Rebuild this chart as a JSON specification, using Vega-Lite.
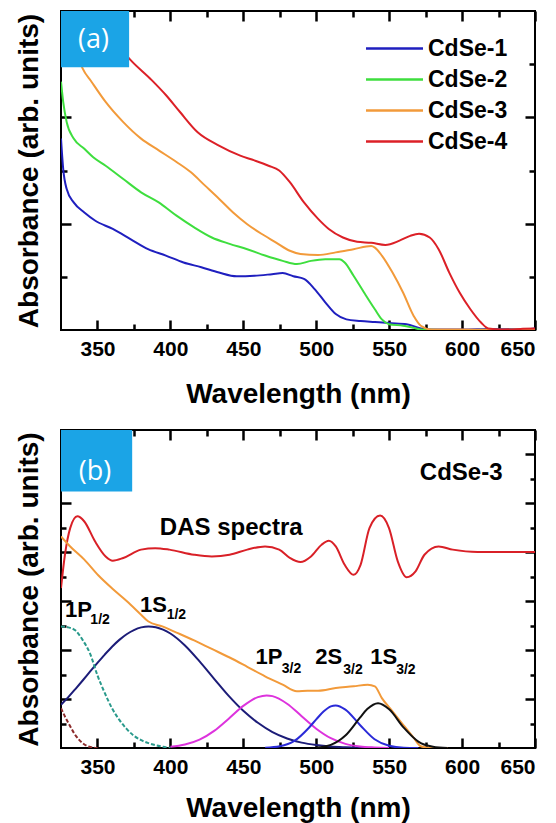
{
  "$schema": "https://vega.github.io/schema/vega-lite/v6.json",
  "background": "white",
  "padding": {"left": 14, "top": 8, "right": 5, "bottom": 0},
  "spacing": 18,
  "resolve": {"scale": {"color": "independent"}, "legend": {"color": "independent"}},
  "config": {
    "view": {"stroke": "#000", "strokeWidth": 2},
    "axis": {
      "domain": false, "grid": false, "zindex": 1, "ticks": true,
      "labelFont": "Liberation Sans", "labelFontWeight": "bold", "labelFontSize": 21, "labelColor": "#000",
      "titleFont": "Liberation Sans", "titleFontWeight": "bold", "titleFontSize": 28, "titleColor": "#000",
      "tickColor": "#000", "tickWidth": 2.5
    }
  },
  "datasets": {
    "a12": [
      {"wl": 325, "ab": 3.60, "s": "CdSe-1"}, {"wl": 326.5, "ab": 3.03, "s": "CdSe-1"}, {"wl": 328.9, "ab": 2.65, "s": "CdSe-1"}, {"wl": 333.7, "ab": 2.40, "s": "CdSe-1"}, {"wl": 341.0, "ab": 2.21, "s": "CdSe-1"}, {"wl": 348.3, "ab": 2.06, "s": "CdSe-1"}, {"wl": 360.5, "ab": 1.90, "s": "CdSe-1"}, {"wl": 372.6, "ab": 1.71, "s": "CdSe-1"}, {"wl": 384.7, "ab": 1.52, "s": "CdSe-1"}, {"wl": 396.9, "ab": 1.40, "s": "CdSe-1"}, {"wl": 409.0, "ab": 1.27, "s": "CdSe-1"}, {"wl": 421.2, "ab": 1.18, "s": "CdSe-1"}, {"wl": 433.3, "ab": 1.08, "s": "CdSe-1"}, {"wl": 445.4, "ab": 1.01, "s": "CdSe-1"}, {"wl": 457.6, "ab": 1.02, "s": "CdSe-1"}, {"wl": 469.7, "ab": 1.05, "s": "CdSe-1"}, {"wl": 477.0, "ab": 1.07, "s": "CdSe-1"}, {"wl": 484.3, "ab": 1.01, "s": "CdSe-1"}, {"wl": 491.6, "ab": 0.96, "s": "CdSe-1"}, {"wl": 498.9, "ab": 0.77, "s": "CdSe-1"}, {"wl": 506.2, "ab": 0.52, "s": "CdSe-1"}, {"wl": 513.4, "ab": 0.30, "s": "CdSe-1"}, {"wl": 520.7, "ab": 0.20, "s": "CdSe-1"}, {"wl": 530.4, "ab": 0.17, "s": "CdSe-1"}, {"wl": 540.2, "ab": 0.15, "s": "CdSe-1"}, {"wl": 549.9, "ab": 0.13, "s": "CdSe-1"}, {"wl": 562.0, "ab": 0.11, "s": "CdSe-1"}, {"wl": 571.7, "ab": 0.03, "s": "CdSe-1"}, {"wl": 579.0, "ab": 0.01, "s": "CdSe-1"}, {"wl": 600, "ab": 0.01, "s": "CdSe-1"}, {"wl": 620, "ab": 0.02, "s": "CdSe-1"}, {"wl": 640, "ab": 0.01, "s": "CdSe-1"}, {"wl": 650, "ab": 0.03, "s": "CdSe-1"},
      {"wl": 325, "ab": 4.67, "s": "CdSe-2"}, {"wl": 326.5, "ab": 4.29, "s": "CdSe-2"}, {"wl": 328.9, "ab": 3.91, "s": "CdSe-2"}, {"wl": 333.7, "ab": 3.60, "s": "CdSe-2"}, {"wl": 341.0, "ab": 3.41, "s": "CdSe-2"}, {"wl": 347.1, "ab": 3.25, "s": "CdSe-2"}, {"wl": 355.6, "ab": 3.09, "s": "CdSe-2"}, {"wl": 367.7, "ab": 2.84, "s": "CdSe-2"}, {"wl": 379.9, "ab": 2.59, "s": "CdSe-2"}, {"wl": 392.0, "ab": 2.40, "s": "CdSe-2"}, {"wl": 404.2, "ab": 2.15, "s": "CdSe-2"}, {"wl": 416.3, "ab": 1.93, "s": "CdSe-2"}, {"wl": 428.4, "ab": 1.74, "s": "CdSe-2"}, {"wl": 440.6, "ab": 1.62, "s": "CdSe-2"}, {"wl": 452.7, "ab": 1.52, "s": "CdSe-2"}, {"wl": 464.9, "ab": 1.40, "s": "CdSe-2"}, {"wl": 477.0, "ab": 1.30, "s": "CdSe-2"}, {"wl": 486.7, "ab": 1.24, "s": "CdSe-2"}, {"wl": 496.4, "ab": 1.30, "s": "CdSe-2"}, {"wl": 506.2, "ab": 1.33, "s": "CdSe-2"}, {"wl": 515.9, "ab": 1.33, "s": "CdSe-2"}, {"wl": 519.5, "ab": 1.27, "s": "CdSe-2"}, {"wl": 525.6, "ab": 1.02, "s": "CdSe-2"}, {"wl": 532.9, "ab": 0.70, "s": "CdSe-2"}, {"wl": 540.2, "ab": 0.39, "s": "CdSe-2"}, {"wl": 545.0, "ab": 0.20, "s": "CdSe-2"}, {"wl": 549.9, "ab": 0.11, "s": "CdSe-2"}, {"wl": 559.6, "ab": 0.08, "s": "CdSe-2"}, {"wl": 566.9, "ab": 0.04, "s": "CdSe-2"}, {"wl": 571.7, "ab": 0.01, "s": "CdSe-2"}, {"wl": 600, "ab": 0.0, "s": "CdSe-2"}, {"wl": 650, "ab": 0.01, "s": "CdSe-2"}
    ],
    "a34": [
      {"wl": 325, "ab": 6.3, "s": "CdSe-3"}, {"wl": 332, "ab": 5.6, "s": "CdSe-3"}, {"wl": 339.8, "ab": 4.92, "s": "CdSe-3"}, {"wl": 345.9, "ab": 4.67, "s": "CdSe-3"}, {"wl": 355.6, "ab": 4.29, "s": "CdSe-3"}, {"wl": 367.7, "ab": 3.91, "s": "CdSe-3"}, {"wl": 379.9, "ab": 3.60, "s": "CdSe-3"}, {"wl": 392.0, "ab": 3.38, "s": "CdSe-3"}, {"wl": 404.2, "ab": 3.16, "s": "CdSe-3"}, {"wl": 413.9, "ab": 2.97, "s": "CdSe-3"}, {"wl": 423.6, "ab": 2.72, "s": "CdSe-3"}, {"wl": 433.3, "ab": 2.47, "s": "CdSe-3"}, {"wl": 443.0, "ab": 2.21, "s": "CdSe-3"}, {"wl": 452.7, "ab": 1.99, "s": "CdSe-3"}, {"wl": 462.4, "ab": 1.81, "s": "CdSe-3"}, {"wl": 472.2, "ab": 1.65, "s": "CdSe-3"}, {"wl": 481.9, "ab": 1.49, "s": "CdSe-3"}, {"wl": 489.2, "ab": 1.43, "s": "CdSe-3"}, {"wl": 501.3, "ab": 1.41, "s": "CdSe-3"}, {"wl": 513.4, "ab": 1.46, "s": "CdSe-3"}, {"wl": 525.6, "ab": 1.52, "s": "CdSe-3"}, {"wl": 537.7, "ab": 1.58, "s": "CdSe-3"}, {"wl": 540.2, "ab": 1.55, "s": "CdSe-3"}, {"wl": 545.0, "ab": 1.40, "s": "CdSe-3"}, {"wl": 552.3, "ab": 1.08, "s": "CdSe-3"}, {"wl": 559.6, "ab": 0.70, "s": "CdSe-3"}, {"wl": 566.9, "ab": 0.26, "s": "CdSe-3"}, {"wl": 571.7, "ab": 0.08, "s": "CdSe-3"}, {"wl": 579.0, "ab": 0.01, "s": "CdSe-3"}, {"wl": 600, "ab": 0.01, "s": "CdSe-3"}, {"wl": 630, "ab": 0.0, "s": "CdSe-3"}, {"wl": 650, "ab": 0.02, "s": "CdSe-3"},
      {"wl": 325, "ab": 6.9, "s": "CdSe-4"}, {"wl": 345, "ab": 6.1, "s": "CdSe-4"}, {"wl": 360, "ab": 5.5, "s": "CdSe-4"}, {"wl": 372.6, "ab": 5.08, "s": "CdSe-4"}, {"wl": 387.2, "ab": 4.70, "s": "CdSe-4"}, {"wl": 396.9, "ab": 4.42, "s": "CdSe-4"}, {"wl": 406.6, "ab": 4.10, "s": "CdSe-4"}, {"wl": 418.7, "ab": 3.72, "s": "CdSe-4"}, {"wl": 433.3, "ab": 3.47, "s": "CdSe-4"}, {"wl": 447.9, "ab": 3.28, "s": "CdSe-4"}, {"wl": 457.6, "ab": 3.19, "s": "CdSe-4"}, {"wl": 467.3, "ab": 3.09, "s": "CdSe-4"}, {"wl": 474.6, "ab": 3.00, "s": "CdSe-4"}, {"wl": 481.9, "ab": 2.78, "s": "CdSe-4"}, {"wl": 491.6, "ab": 2.40, "s": "CdSe-4"}, {"wl": 501.3, "ab": 2.09, "s": "CdSe-4"}, {"wl": 508.6, "ab": 1.90, "s": "CdSe-4"}, {"wl": 518.3, "ab": 1.74, "s": "CdSe-4"}, {"wl": 528.0, "ab": 1.66, "s": "CdSe-4"}, {"wl": 537.7, "ab": 1.64, "s": "CdSe-4"}, {"wl": 547.4, "ab": 1.60, "s": "CdSe-4"}, {"wl": 557.1, "ab": 1.68, "s": "CdSe-4"}, {"wl": 564.4, "ab": 1.77, "s": "CdSe-4"}, {"wl": 570.5, "ab": 1.81, "s": "CdSe-4"}, {"wl": 577.8, "ab": 1.74, "s": "CdSe-4"}, {"wl": 583.9, "ab": 1.52, "s": "CdSe-4"}, {"wl": 591.2, "ab": 1.08, "s": "CdSe-4"}, {"wl": 598.4, "ab": 0.70, "s": "CdSe-4"}, {"wl": 605.7, "ab": 0.39, "s": "CdSe-4"}, {"wl": 613.0, "ab": 0.14, "s": "CdSe-4"}, {"wl": 617.9, "ab": 0.03, "s": "CdSe-4"}, {"wl": 627.6, "ab": 0.01, "s": "CdSe-4"}, {"wl": 640, "ab": 0.02, "s": "CdSe-4"}, {"wl": 650, "ab": 0.03, "s": "CdSe-4"}
    ],
    "b": [
      {"wl": 325, "ab": 6.54, "s": "DAS"}, {"wl": 327.7, "ab": 7.90, "s": "DAS"}, {"wl": 331.3, "ab": 8.99, "s": "DAS"}, {"wl": 336.2, "ab": 9.47, "s": "DAS"}, {"wl": 341.0, "ab": 9.26, "s": "DAS"}, {"wl": 348.3, "ab": 8.45, "s": "DAS"}, {"wl": 355.6, "ab": 7.83, "s": "DAS"}, {"wl": 360.5, "ab": 7.66, "s": "DAS"}, {"wl": 367.7, "ab": 7.77, "s": "DAS"}, {"wl": 379.9, "ab": 8.11, "s": "DAS"}, {"wl": 389.6, "ab": 8.17, "s": "DAS"}, {"wl": 399.3, "ab": 8.11, "s": "DAS"}, {"wl": 416.3, "ab": 7.90, "s": "DAS"}, {"wl": 428.4, "ab": 7.83, "s": "DAS"}, {"wl": 440.6, "ab": 7.90, "s": "DAS"}, {"wl": 452.7, "ab": 8.11, "s": "DAS"}, {"wl": 464.9, "ab": 8.24, "s": "DAS"}, {"wl": 474.6, "ab": 8.11, "s": "DAS"}, {"wl": 481.9, "ab": 7.77, "s": "DAS"}, {"wl": 489.2, "ab": 7.60, "s": "DAS"}, {"wl": 496.4, "ab": 7.83, "s": "DAS"}, {"wl": 503.7, "ab": 8.31, "s": "DAS"}, {"wl": 508.6, "ab": 8.47, "s": "DAS"}, {"wl": 513.4, "ab": 8.24, "s": "DAS"}, {"wl": 519.5, "ab": 7.49, "s": "DAS"}, {"wl": 525.6, "ab": 7.08, "s": "DAS"}, {"wl": 530.4, "ab": 7.49, "s": "DAS"}, {"wl": 536.5, "ab": 8.99, "s": "DAS"}, {"wl": 543.8, "ab": 9.50, "s": "DAS"}, {"wl": 549.9, "ab": 8.99, "s": "DAS"}, {"wl": 555.9, "ab": 7.63, "s": "DAS"}, {"wl": 562.0, "ab": 6.98, "s": "DAS"}, {"wl": 568.1, "ab": 7.22, "s": "DAS"}, {"wl": 574.2, "ab": 7.90, "s": "DAS"}, {"wl": 583.9, "ab": 8.24, "s": "DAS"}, {"wl": 593.6, "ab": 8.11, "s": "DAS"}, {"wl": 610.6, "ab": 8.01, "s": "DAS"}, {"wl": 650, "ab": 8.01, "s": "DAS"},
      {"wl": 325, "ab": 8.65, "s": "abs"}, {"wl": 331.3, "ab": 8.24, "s": "abs"}, {"wl": 341.0, "ab": 7.70, "s": "abs"}, {"wl": 350.7, "ab": 7.05, "s": "abs"}, {"wl": 360.5, "ab": 6.50, "s": "abs"}, {"wl": 370.2, "ab": 6.0, "s": "abs"}, {"wl": 379.9, "ab": 5.45, "s": "abs"}, {"wl": 384.7, "ab": 5.18, "s": "abs"}, {"wl": 394.5, "ab": 4.97, "s": "abs"}, {"wl": 404.2, "ab": 4.72, "s": "abs"}, {"wl": 416.3, "ab": 4.40, "s": "abs"}, {"wl": 428.4, "ab": 4.05, "s": "abs"}, {"wl": 440.6, "ab": 3.70, "s": "abs"}, {"wl": 452.7, "ab": 3.32, "s": "abs"}, {"wl": 464.9, "ab": 2.93, "s": "abs"}, {"wl": 477.0, "ab": 2.59, "s": "abs"}, {"wl": 486.7, "ab": 2.32, "s": "abs"}, {"wl": 494.0, "ab": 2.34, "s": "abs"}, {"wl": 501.3, "ab": 2.34, "s": "abs"}, {"wl": 513.4, "ab": 2.45, "s": "abs"}, {"wl": 525.6, "ab": 2.52, "s": "abs"}, {"wl": 535.3, "ab": 2.59, "s": "abs"}, {"wl": 540.2, "ab": 2.52, "s": "abs"}, {"wl": 545.0, "ab": 2.04, "s": "abs"}, {"wl": 552.3, "ab": 1.50, "s": "abs"}, {"wl": 559.6, "ab": 0.95, "s": "abs"}, {"wl": 566.9, "ab": 0.41, "s": "abs"}, {"wl": 571.7, "ab": 0.07, "s": "abs"}, {"wl": 579.0, "ab": 0.0, "s": "abs"}, {"wl": 590, "ab": 0.0, "s": "abs"},
      {"wl": 325, "ab": 1.77, "s": "1S12"}, {"wl": 330, "ab": 2.08, "s": "1S12"}, {"wl": 335, "ab": 2.42, "s": "1S12"}, {"wl": 340, "ab": 2.77, "s": "1S12"}, {"wl": 345, "ab": 3.13, "s": "1S12"}, {"wl": 350, "ab": 3.48, "s": "1S12"}, {"wl": 355, "ab": 3.82, "s": "1S12"}, {"wl": 360, "ab": 4.14, "s": "1S12"}, {"wl": 365, "ab": 4.42, "s": "1S12"}, {"wl": 370, "ab": 4.65, "s": "1S12"}, {"wl": 375, "ab": 4.82, "s": "1S12"}, {"wl": 380, "ab": 4.93, "s": "1S12"}, {"wl": 385, "ab": 4.97, "s": "1S12"}, {"wl": 390, "ab": 4.94, "s": "1S12"}, {"wl": 395, "ab": 4.84, "s": "1S12"}, {"wl": 400, "ab": 4.68, "s": "1S12"}, {"wl": 410, "ab": 4.19, "s": "1S12"}, {"wl": 420, "ab": 3.54, "s": "1S12"}, {"wl": 430, "ab": 2.83, "s": "1S12"}, {"wl": 440, "ab": 2.13, "s": "1S12"}, {"wl": 450, "ab": 1.52, "s": "1S12"}, {"wl": 460, "ab": 1.03, "s": "1S12"}, {"wl": 470, "ab": 0.65, "s": "1S12"}, {"wl": 480, "ab": 0.39, "s": "1S12"}, {"wl": 490, "ab": 0.22, "s": "1S12"}, {"wl": 500, "ab": 0.12, "s": "1S12"}, {"wl": 510, "ab": 0.06, "s": "1S12"}, {"wl": 520, "ab": 0.03, "s": "1S12"}, {"wl": 530, "ab": 0.01, "s": "1S12"}, {"wl": 540, "ab": 0.0, "s": "1S12"},
      {"wl": 400, "ab": 0.05, "s": "1P32"}, {"wl": 410, "ab": 0.14, "s": "1P32"}, {"wl": 420, "ab": 0.34, "s": "1P32"}, {"wl": 430, "ab": 0.70, "s": "1P32"}, {"wl": 440, "ab": 1.20, "s": "1P32"}, {"wl": 450, "ab": 1.72, "s": "1P32"}, {"wl": 460, "ab": 2.08, "s": "1P32"}, {"wl": 466, "ab": 2.15, "s": "1P32"}, {"wl": 470, "ab": 2.12, "s": "1P32"}, {"wl": 480, "ab": 1.81, "s": "1P32"}, {"wl": 490, "ab": 1.30, "s": "1P32"}, {"wl": 500, "ab": 0.79, "s": "1P32"}, {"wl": 510, "ab": 0.40, "s": "1P32"}, {"wl": 520, "ab": 0.17, "s": "1P32"}, {"wl": 530, "ab": 0.06, "s": "1P32"}, {"wl": 540, "ab": 0.02, "s": "1P32"}, {"wl": 550, "ab": 0.0, "s": "1P32"},
      {"wl": 465, "ab": 0.01, "s": "2S32"}, {"wl": 475, "ab": 0.07, "s": "2S32"}, {"wl": 485, "ab": 0.29, "s": "2S32"}, {"wl": 495, "ab": 0.83, "s": "2S32"}, {"wl": 500, "ab": 1.17, "s": "2S32"}, {"wl": 505, "ab": 1.49, "s": "2S32"}, {"wl": 510, "ab": 1.70, "s": "2S32"}, {"wl": 513.3, "ab": 1.74, "s": "2S32"}, {"wl": 520, "ab": 1.57, "s": "2S32"}, {"wl": 530, "ab": 0.94, "s": "2S32"}, {"wl": 540, "ab": 0.36, "s": "2S32"}, {"wl": 550, "ab": 0.09, "s": "2S32"}, {"wl": 560, "ab": 0.01, "s": "2S32"}, {"wl": 570, "ab": 0.0, "s": "2S32"},
      {"wl": 500, "ab": 0.02, "s": "1S32"}, {"wl": 510, "ab": 0.13, "s": "1S32"}, {"wl": 520, "ab": 0.51, "s": "1S32"}, {"wl": 530, "ab": 1.24, "s": "1S32"}, {"wl": 535, "ab": 1.59, "s": "1S32"}, {"wl": 542.4, "ab": 1.83, "s": "1S32"}, {"wl": 550, "ab": 1.58, "s": "1S32"}, {"wl": 560, "ab": 0.83, "s": "1S32"}, {"wl": 570, "ab": 0.26, "s": "1S32"}, {"wl": 580, "ab": 0.05, "s": "1S32"}, {"wl": 590, "ab": 0.0, "s": "1S32"}
    ],
    "bd": [
      {"wl": 325, "ab": 4.97, "s": "1P12"}, {"wl": 330, "ab": 4.93, "s": "1P12"}, {"wl": 335, "ab": 4.80, "s": "1P12"}, {"wl": 340, "ab": 4.40, "s": "1P12"}, {"wl": 345, "ab": 3.85, "s": "1P12"}, {"wl": 350, "ab": 2.97, "s": "1P12"}, {"wl": 355, "ab": 2.25, "s": "1P12"}, {"wl": 360, "ab": 1.62, "s": "1P12"}, {"wl": 365, "ab": 1.15, "s": "1P12"}, {"wl": 370, "ab": 0.78, "s": "1P12"}, {"wl": 375, "ab": 0.50, "s": "1P12"}, {"wl": 380, "ab": 0.32, "s": "1P12"}, {"wl": 385, "ab": 0.20, "s": "1P12"}, {"wl": 390, "ab": 0.11, "s": "1P12"}, {"wl": 395, "ab": 0.05, "s": "1P12"}, {"wl": 400, "ab": 0.0, "s": "1P12"},
      {"wl": 325, "ab": 1.63, "s": "UV"}, {"wl": 328, "ab": 1.25, "s": "UV"}, {"wl": 331, "ab": 0.92, "s": "UV"}, {"wl": 334, "ab": 0.60, "s": "UV"}, {"wl": 337, "ab": 0.36, "s": "UV"}, {"wl": 340, "ab": 0.19, "s": "UV"}, {"wl": 343, "ab": 0.08, "s": "UV"}, {"wl": 346, "ab": 0.03, "s": "UV"}, {"wl": 350, "ab": 0.0, "s": "UV"}
    ]
  },
  "vconcat": [
    {
      "width": 474, "height": 319,
      "layer": [
        {
          "data": {"name": "a12"},
          "mark": {"type": "line", "clip": true, "strokeWidth": 2, "interpolate": "monotone"},
          "encoding": {
            "x": {"field": "wl", "type": "quantitative", "scale": {"domain": [325, 650], "nice": false},
              "axis": {"orient": "bottom", "title": "Wavelength (nm)", "values": [350, 400, 450, 500, 550, 600, 650],
                "offset": -20, "tickSize": 20, "tickDash": [0, 10, 10, 10], "tickColor": "#000", "tickWidth": 2.5, "labelPadding": 8, "titlePadding": 21}},
            "y": {"field": "ab", "type": "quantitative", "scale": {"domain": [0, 6], "nice": false},
              "axis": {"orient": "left", "title": "Absorbance (arb. units)", "labels": false, "values": [2, 4], "offset": -20, "tickSize": 20, "tickDash": [0, 10, 10, 10], "tickColor": "#000", "tickWidth": 2.5, "titlePadding": 16}},
            "color": {"field": "s", "type": "nominal",
              "scale": {"domain": ["CdSe-1", "CdSe-2", "CdSe-3", "CdSe-4"], "range": ["#1f1fbf", "#3ede3e", "#f29a3a", "#dc2027"]},
              "legend": {"orient": "none", "legendX": 322, "legendY": 26, "title": null, "symbolType": "M-4,0H4", "symbolSize": 203, "symbolStrokeWidth": 2.5,
                "labelFont": "Liberation Sans", "labelFontWeight": "bold", "labelFontSize": 23, "labelColor": "#000", "labelOffset": 22, "rowPadding": 7, "padding": 0}}
          }
        },
        {
          "data": {"name": "a34"},
          "mark": {"type": "line", "clip": true, "strokeWidth": 2, "interpolate": "monotone"},
          "encoding": {
            "x": {"field": "wl", "type": "quantitative", "scale": {"domain": [325, 650], "nice": false},
              "axis": {"orient": "top", "title": null, "labels": false, "values": [350, 400, 450, 500, 550, 600, 650], "offset": -20, "tickSize": 20, "tickDash": [0, 10, 10, 10], "tickColor": "#000", "tickWidth": 2.5}},
            "y": {"field": "ab", "type": "quantitative", "scale": {"domain": [0, 6], "nice": false},
              "axis": {"orient": "right", "title": null, "labels": false, "values": [2, 4], "offset": -20, "tickSize": 20, "tickDash": [0, 10, 10, 10], "tickColor": "#000", "tickWidth": 2.5}},
            "color": {"field": "s", "type": "nominal",
              "scale": {"domain": ["CdSe-1", "CdSe-2", "CdSe-3", "CdSe-4"], "range": ["#1f1fbf", "#3ede3e", "#f29a3a", "#dc2027"]},
              "legend": {"orient": "none", "legendX": 322, "legendY": 26, "title": null, "symbolType": "M-4,0H4", "symbolSize": 203, "symbolStrokeWidth": 2.5,
                "labelFont": "Liberation Sans", "labelFontWeight": "bold", "labelFontSize": 23, "labelColor": "#000", "labelOffset": 22, "rowPadding": 7, "padding": 0}}
          }
        },
        {
          "data": {"values": [{"x1": 325, "x2": 371.7, "y1": 4.94, "y2": 6}]},
          "mark": {"type": "rect", "color": "#1ba4e6"},
          "encoding": {
            "x": {"field": "x1", "type": "quantitative", "scale": {"domain": [325, 650], "nice": false},
              "axis": {"orient": "bottom", "title": null, "labels": false, "values": [375, 425, 475, 525, 575, 625], "offset": -20, "tickSize": 20, "tickDash": [0, 14, 6, 14], "tickColor": "#000", "tickWidth": 2.5}},
            "x2": {"field": "x2"},
            "y": {"field": "y1", "type": "quantitative", "scale": {"domain": [0, 6], "nice": false},
              "axis": {"orient": "left", "title": null, "labels": false, "values": [1, 3, 5], "offset": -20, "tickSize": 20, "tickDash": [0, 14, 6, 14], "tickColor": "#000", "tickWidth": 2.5}},
            "y2": {"field": "y2"}
          }
        },
        {
          "data": {"values": [{"x": 347.3, "y": 5.45, "t": "(a)"}]},
          "mark": {"type": "text", "font": "Open Sans", "fontSize": 27, "color": "white", "align": "center", "baseline": "middle"},
          "encoding": {
            "x": {"field": "x", "type": "quantitative", "scale": {"domain": [325, 650], "nice": false},
              "axis": {"orient": "top", "title": null, "labels": false, "values": [375, 425, 475, 525, 575, 625], "offset": -20, "tickSize": 20, "tickDash": [0, 14, 6, 14], "tickColor": "#000", "tickWidth": 2.5}},
            "y": {"field": "y", "type": "quantitative", "scale": {"domain": [0, 6], "nice": false},
              "axis": {"orient": "right", "title": null, "labels": false, "values": [1, 3, 5], "offset": -20, "tickSize": 20, "tickDash": [0, 14, 6, 14], "tickColor": "#000", "tickWidth": 2.5}},
            "text": {"field": "t"}
          }
        }
      ]
    },
    {
      "width": 474, "height": 318,
      "layer": [
        {
          "data": {"name": "b"},
          "mark": {"type": "line", "clip": true, "strokeWidth": 2, "interpolate": "monotone"},
          "encoding": {
            "x": {"field": "wl", "type": "quantitative", "scale": {"domain": [325, 650], "nice": false},
              "axis": {"orient": "bottom", "title": "Wavelength (nm)", "values": [350, 400, 450, 500, 550, 600, 650],
                "offset": -20, "tickSize": 20, "tickDash": [0, 10, 10, 10], "tickColor": "#000", "tickWidth": 2.5, "labelPadding": 8, "titlePadding": 17}},
            "y": {"field": "ab", "type": "quantitative", "scale": {"domain": [0, 13], "nice": false},
              "axis": {"orient": "left", "title": "Absorbance (arb. units)", "labels": false, "values": [2, 4, 6, 8, 10, 12], "offset": -20, "tickSize": 20, "tickDash": [0, 10, 10, 10], "tickColor": "#000", "tickWidth": 2.5, "titlePadding": 16}},
            "color": {"field": "s", "type": "nominal", "legend": null,
              "scale": {"domain": ["DAS", "abs", "1S12", "1P32", "2S32", "1S32", "1P12", "UV"], "range": ["#d92027", "#f29a3a", "#1c1c78", "#dd33dd", "#2a2ad8", "#111111", "#2a9a8c", "#8c2a2a"]}}
          }
        },
        {
          "data": {"name": "bd"},
          "mark": {"type": "line", "clip": true, "strokeWidth": 2, "strokeDash": [4, 2], "interpolate": "monotone"},
          "encoding": {
            "x": {"field": "wl", "type": "quantitative", "scale": {"domain": [325, 650], "nice": false},
              "axis": {"orient": "top", "title": null, "labels": false, "values": [350, 400, 450, 500, 550, 600, 650], "offset": -20, "tickSize": 20, "tickDash": [0, 10, 10, 10], "tickColor": "#000", "tickWidth": 2.5}},
            "y": {"field": "ab", "type": "quantitative", "scale": {"domain": [0, 13], "nice": false},
              "axis": {"orient": "right", "title": null, "labels": false, "values": [2, 4, 6, 8, 10, 12], "offset": -20, "tickSize": 20, "tickDash": [0, 10, 10, 10], "tickColor": "#000", "tickWidth": 2.5}},
            "color": {"field": "s", "type": "nominal", "legend": null}
          }
        },
        {
          "data": {"values": [{"x1": 325, "x2": 373.8, "y1": 10.49, "y2": 13}]},
          "mark": {"type": "rect", "color": "#1ba4e6"},
          "encoding": {
            "x": {"field": "x1", "type": "quantitative", "scale": {"domain": [325, 650], "nice": false},
              "axis": {"orient": "bottom", "title": null, "labels": false, "values": [375, 425, 475, 525, 575, 625], "offset": -20, "tickSize": 20, "tickDash": [0, 14, 6, 14], "tickColor": "#000", "tickWidth": 2.5}},
            "x2": {"field": "x2"},
            "y": {"field": "y1", "type": "quantitative", "scale": {"domain": [0, 13], "nice": false},
              "axis": {"orient": "left", "title": null, "labels": false, "values": [1, 3, 5, 7, 9, 11], "offset": -20, "tickSize": 20, "tickDash": [0, 15, 5, 15], "tickColor": "#000", "tickWidth": 2.5}},
            "y2": {"field": "y2"}
          }
        },
        {
          "data": {"values": [{"x": 348.3, "y": 11.3, "t": "(b)"}]},
          "mark": {"type": "text", "font": "Open Sans", "fontSize": 27, "color": "white", "align": "center", "baseline": "middle"},
          "encoding": {
            "x": {"field": "x", "type": "quantitative", "scale": {"domain": [325, 650], "nice": false},
              "axis": {"orient": "top", "title": null, "labels": false, "values": [375, 425, 475, 525, 575, 625], "offset": -20, "tickSize": 20, "tickDash": [0, 14, 6, 14], "tickColor": "#000", "tickWidth": 2.5}},
            "y": {"field": "y", "type": "quantitative", "scale": {"domain": [0, 13], "nice": false},
              "axis": {"orient": "right", "title": null, "labels": false, "values": [1, 3, 5, 7, 9, 11], "offset": -20, "tickSize": 20, "tickDash": [0, 15, 5, 15], "tickColor": "#000", "tickWidth": 2.5}},
            "text": {"field": "t"}
          }
        },
        {
          "data": {"values": [{"x": 599.4, "y": 11.23, "t": "CdSe-3"}, {"x": 441.7, "y": 8.99, "t": "DAS spectra"}]},
          "mark": {"type": "text", "font": "Liberation Sans", "fontWeight": "bold", "fontSize": 24, "color": "#000", "align": "center", "baseline": "middle"},
          "encoding": {
            "x": {"field": "x", "type": "quantitative", "axis": null},
            "y": {"field": "y", "type": "quantitative", "axis": null},
            "text": {"field": "t"}
          }
        },
        {
          "data": {"values": [{"x": 337, "y": 5.65, "t": "1P"}, {"x": 388.4, "y": 5.85, "t": "1S"}, {"x": 467.6, "y": 3.74, "t": "1P"}, {"x": 508.6, "y": 3.74, "t": "2S"}, {"x": 546.3, "y": 3.74, "t": "1S"}]},
          "mark": {"type": "text", "font": "Liberation Sans", "fontWeight": "bold", "fontSize": 22, "color": "#000", "align": "center", "baseline": "middle"},
          "encoding": {
            "x": {"field": "x", "type": "quantitative", "axis": null},
            "y": {"field": "y", "type": "quantitative", "axis": null},
            "text": {"field": "t"}
          }
        },
        {
          "data": {"values": [{"x": 351.8, "y": 5.24, "t": "1/2"}, {"x": 404.1, "y": 5.45, "t": "1/2"}, {"x": 483, "y": 3.22, "t": "3/2"}, {"x": 525.2, "y": 3.18, "t": "3/2"}, {"x": 561.5, "y": 3.18, "t": "3/2"}]},
          "mark": {"type": "text", "font": "Liberation Sans", "fontWeight": "bold", "fontSize": 14, "color": "#000", "align": "center", "baseline": "middle"},
          "encoding": {
            "x": {"field": "x", "type": "quantitative", "axis": null},
            "y": {"field": "y", "type": "quantitative", "axis": null},
            "text": {"field": "t"}
          }
        }
      ]
    }
  ]
}
